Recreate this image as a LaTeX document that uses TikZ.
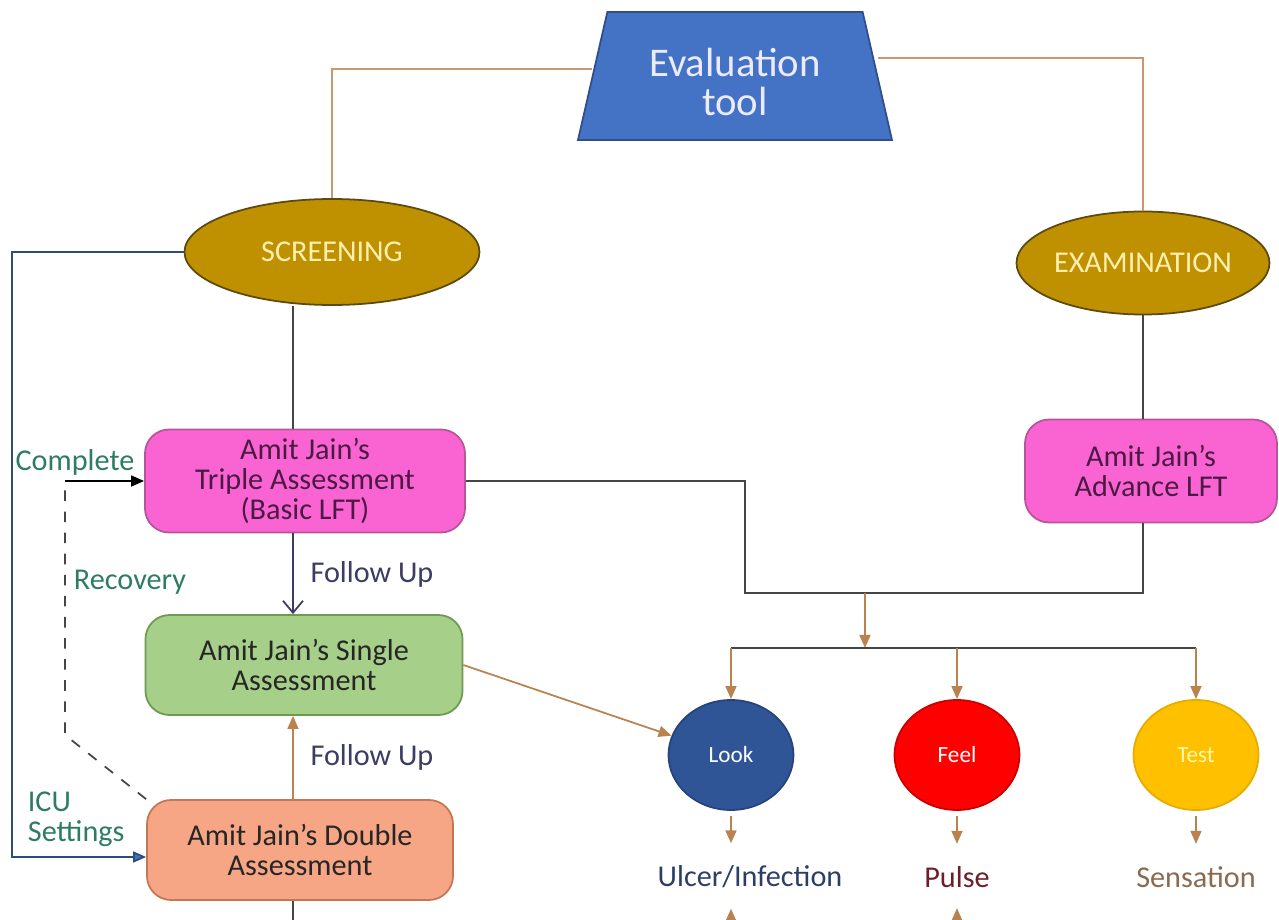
\documentclass[tikz,border=0pt]{standalone}
\usepackage{fontspec}
\setmainfont{Carlito}
\usetikzlibrary{arrows.meta,positioning,shapes.geometric}

\definecolor{evalblue}{HTML}{4472C4}
\definecolor{evaledge}{HTML}{2F4F8A}
\definecolor{goldfill}{HTML}{BF9000}
\definecolor{goldedge}{HTML}{5C4A10}
\definecolor{goldtext}{HTML}{FFF0B0}
\definecolor{pinkfill}{HTML}{FA64D2}
\definecolor{pinkedge}{HTML}{B65599}
\definecolor{pinktext}{HTML}{4A1A44}
\definecolor{greenfill}{HTML}{A6CF8A}
\definecolor{greenedge}{HTML}{6E9B50}
\definecolor{salmonfill}{HTML}{F6A585}
\definecolor{salmonedge}{HTML}{C27855}
\definecolor{lookblue}{HTML}{2F5597}
\definecolor{feelred}{HTML}{FF0000}
\definecolor{testgold}{HTML}{FFC000}
\definecolor{notegreen}{HTML}{2E7D63}
\definecolor{slate}{HTML}{3C3C64}
\definecolor{topbrown}{HTML}{C89870}
\definecolor{arrbrown}{HTML}{B9824F}
\definecolor{darkline}{HTML}{454545}
\definecolor{leftblue}{HTML}{2E4D7B}
\definecolor{ulcerblue}{HTML}{2B3F66}
\definecolor{pulsered}{HTML}{6B1F2A}
\definecolor{senstan}{HTML}{8C6A4E}

\begin{document}
\begin{tikzpicture}[x=0.1mm, y=-0.1mm, line width=0.5pt,
    >={Triangle[length=1.3mm,width=1.1mm]},
    font=\fontsize{8.6}{8.6}\selectfont,
    box/.style={draw, rounded corners=2.4mm, align=center, inner sep=0pt},
    lens/.style={ellipse, draw=goldedge, fill=goldfill, text=goldtext, inner sep=0pt},
    dot/.style={ellipse, minimum width=12.5mm, minimum height=11mm, inner sep=0pt,
                font=\fontsize{6.6}{7}\selectfont},
    note/.style={text=notegreen, inner sep=0pt},
    topline/.style={draw=topbrown},
    plain/.style={draw=darkline},
    brownarr/.style={draw=arrbrown, fill=arrbrown, ->}]

    \useasboundingbox (0,0) rectangle (1279,920);

    % top of the tree
    \node[trapezium, trapezium left angle=74, trapezium right angle=74,
          trapezium stretches body=true, minimum width=31.4mm, minimum height=12.8mm,
          draw=evaledge, fill=evalblue, text=white!92!blue, align=center,
          font=\fontsize{11.6}{11}\selectfont] (eval) at (735,76)
          {\rule{0pt}{4mm}Evaluation\\tool};

    \node[lens, minimum width=29.5mm, minimum height=10.6mm] (screen) at (332,252) {SCREENING};
    \node[lens, minimum width=25.3mm, minimum height=10.3mm] (exam) at (1143,263) {EXAMINATION};

    % assessment boxes
    \node[box, draw=pinkedge, fill=pinkfill, text=pinktext, minimum width=32mm,
          minimum height=10.3mm] (triple) at (305,481) {Amit Jain’s\\Triple Assessment\\(Basic LFT)};
    \node[box, draw=pinkedge, fill=pinkfill, text=pinktext, minimum width=25.2mm,
          minimum height=10.3mm] (advance) at (1151,471) {Amit Jain’s\\Advance LFT};
    \node[box, draw=greenedge, fill=greenfill, text=black!85, minimum width=31.7mm,
          minimum height=10mm] (single) at (304,665) {Amit Jain’s Single\\Assessment};
    \node[box, draw=salmonedge, fill=salmonfill, text=black!85, minimum width=30.6mm,
          minimum height=10mm] (double) at (300,850) {Amit Jain’s Double\\Assessment};

    % look / feel / test
    \node[dot, draw=lookblue!80!black, fill=lookblue, text=white] (look) at (731,755) {Look};
    \node[dot, draw=feelred!80!black, fill=feelred, text=white] (feel) at (957,755) {Feel};
    \node[dot, draw=testgold!90!black, fill=testgold, text=yellow!35] (test) at (1196,755) {Test};

    \node[text=ulcerblue] (ulcer) at (750,877) {Ulcer/Infection};
    \node[text=pulsered] (pulse) at (957,877) {Pulse};
    \node[text=senstan] (sens) at (1196,877) {Sensation};

    % side notes
    \node[note] (complete) at (75,462) {Complete};
    \node[note] (recovery) at (130,582) {Recovery};
    \node[note, anchor=west, align=left] (icu) at (27,819) {ICU\\Settings};
    \node[text=slate] (followA) at (372,574) {Follow Up};
    \node[text=slate] (followB) at (372,757) {Follow Up};

    % helper points
    \coordinate (spine) at (293,0);
    \coordinate (lft) at (12,0);
    \coordinate (rec) at (65,735);
    \coordinate (bend) at (745,593);
    \coordinate (junc) at (865,593);
    \coordinate (hub) at (865,648);
    \coordinate (bottom) at (0,920);

    % connectors
    \draw[topline] ([yshift=0.7mm]eval.west) -| (screen.north);
    \draw[topline] ([yshift=1.8mm]eval.east) -| (exam.north);

    \draw[plain] (spine |- screen.south) -- (spine |- triple.north);
    \draw[draw=slate, -{Straight Barb[length=1.2mm,width=2mm]}]
        (spine |- triple.south) -- (spine |- single.north);
    \draw[brownarr] (spine |- double.north) -- (spine |- single.south);
    \draw[plain] (spine |- double.south) -- (spine |- bottom);

    \draw[draw=leftblue, -{Triangle[length=1.3mm,width=1.1mm,fill=evalblue]}]
        (screen.west) -- (lft |- screen.west)
        -- ([yshift=-0.7mm]lft |- double.west) -- ([yshift=-0.7mm]double.west);

    \draw[darkline, dashed] (double.north west) -- (rec) -- (rec |- triple.west);
    \draw[black, ->] (rec |- triple.west) -- (triple.west);

    \draw[plain] (exam.south) -- (exam.south |- advance.north);
    \draw[plain] (triple.east) -| (bend) -- (junc);
    \draw[plain] (exam.south |- advance.south) |- (junc);
    \draw[brownarr] (junc) -- (hub);
    \draw[plain] (look.north |- hub) -- (test.north |- hub);
    \foreach \c in {look,feel,test}
        \draw[brownarr] (\c.north |- hub) -- (\c.north);

    \draw[brownarr] (single.east) -- (look.162);

    \draw[brownarr] ([yshift=-0.5mm]look.south) -- ([yshift=1mm]look.south |- ulcer.north);
    \draw[brownarr] ([yshift=-0.5mm]feel.south) -- ([yshift=1mm]feel.south |- pulse.north);
    \draw[brownarr] ([yshift=-0.5mm]test.south) -- ([yshift=1mm]test.south |- sens.north);
    \draw[brownarr] (look.south |- bottom) -- ([yshift=-0.8mm]look.south |- ulcer.south);
    \draw[brownarr] (feel.south |- bottom) -- ([yshift=-0.8mm]feel.south |- pulse.south);
\end{tikzpicture}
\end{document}
